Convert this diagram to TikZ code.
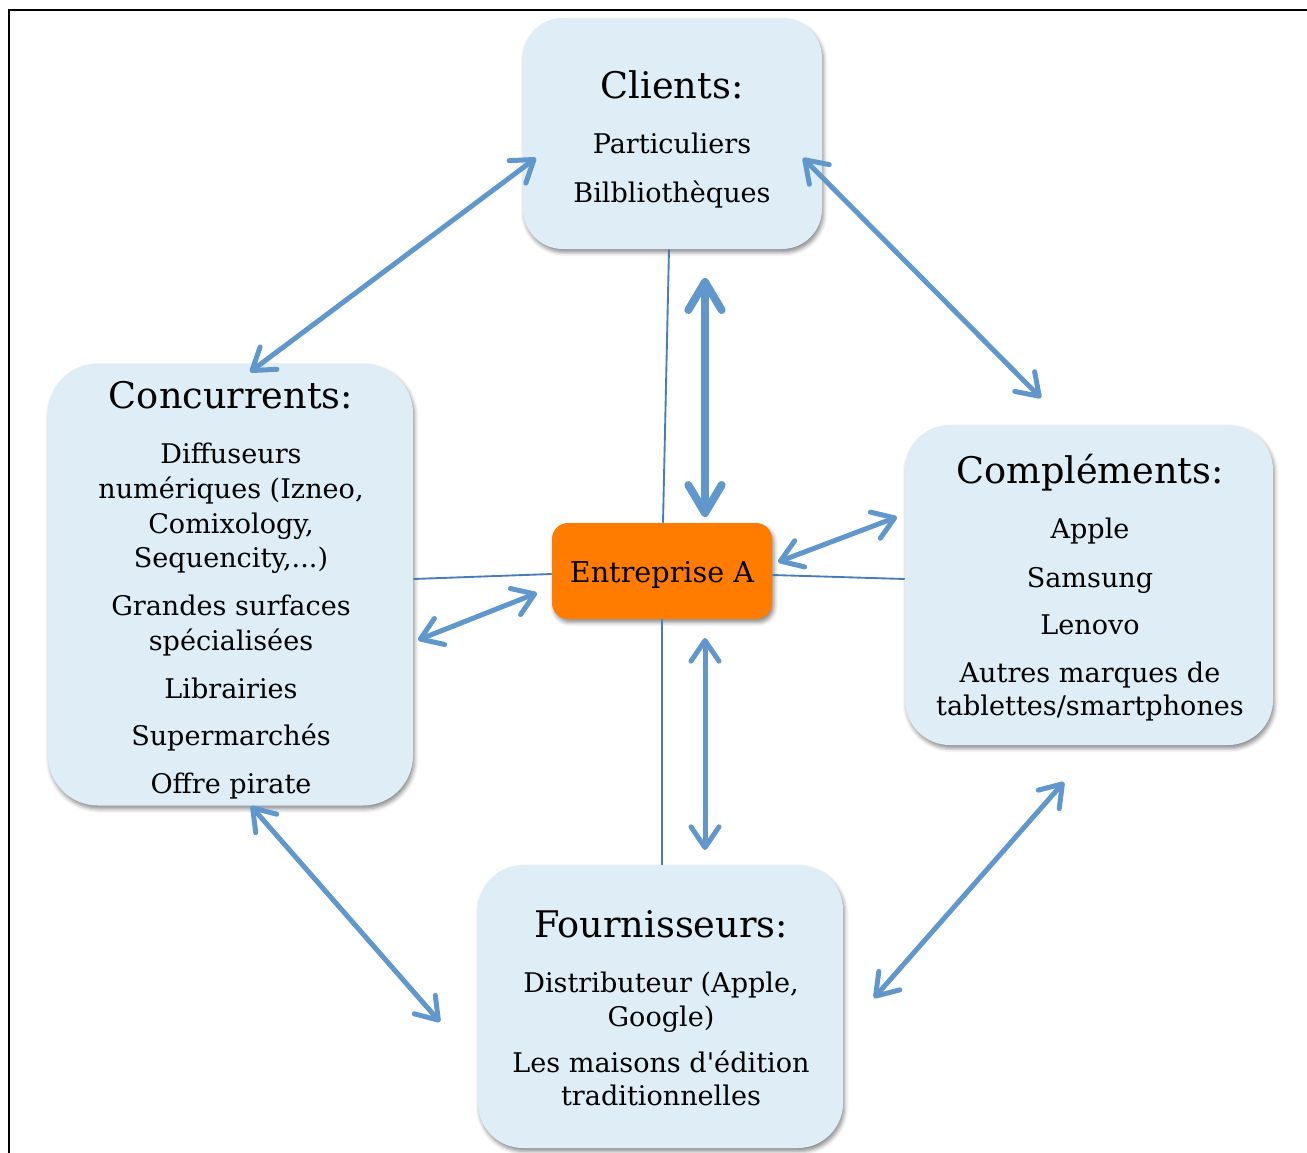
\documentclass[tikz,border=0pt]{standalone}
\usepackage{fontspec}
\setmainfont{DejaVu Serif}
\usetikzlibrary{arrows.meta,shadows.blur,calc}
\definecolor{boxfill}{HTML}{DEEDF6}
\definecolor{hubfill}{HTML}{FF7C00}
\definecolor{thinblue}{HTML}{4A7DB5}
\definecolor{arrowblue}{HTML}{6297CC}
\begin{document}
\begin{tikzpicture}[x=0.75pt,y=-0.75pt,
  panel/.style={rectangle, fill=boxfill, rounded corners=#1, inner sep=0pt,
    blur shadow={shadow xshift=1.2pt, shadow yshift=-2.6pt, shadow blur radius=3pt, shadow opacity=45}},
  hub/.style={rectangle, fill=hubfill, rounded corners=12pt, inner sep=0pt,
    minimum width=165pt, minimum height=72pt,
    font=\fontsize{21.5}{26}\selectfont,
    blur shadow={shadow xshift=1.5pt, shadow yshift=-2.6pt, shadow blur radius=3pt, shadow opacity=45}},
  title/.style={anchor=base, inner sep=0pt, font=\fontsize{27.5}{32}\selectfont},
  body/.style={anchor=base, inner sep=0pt, font=\fontsize{20.3}{24}\selectfont},
  tie/.style={draw=thinblue, line width=1.4pt},
  link/.style={draw=arrowblue, line width=3.75pt,
    arrows={Straight Barb[length=15.5pt,width=21pt,round]-Straight Barb[length=15.5pt,width=21pt,round]}},
  biglink/.style={draw=arrowblue, line width=6pt,
    arrows={Straight Barb[length=21pt,width=25pt,round]-Straight Barb[length=21pt,width=25pt,round]}}
]
% page extent and frame
\useasboundingbox (0,0) rectangle (1307,1153);
\draw[line width=2pt] (9,1153) -- (9,10) -- (1307,10);

% the five boxes
\node[panel=30pt, minimum width=224.25pt, minimum height=173.25pt] (clients) at (672.5,133.5) {};
\node[panel=37.5pt, minimum width=273.75pt, minimum height=331.5pt] (concurrents) at (230.5,584.5) {};
\node[panel=33.75pt, minimum width=276pt, minimum height=240pt] (complements) at (1089,585) {};
\node[panel=33.75pt, minimum width=273.75pt, minimum height=212.25pt] (fournisseurs) at (660.5,1006.5) {};
\node[hub] (entreprise) at (662,571) {\raisebox{-2.6pt}[\height][\depth]{Entreprise A}};

% thin ties from the hub to each box
\draw[tie] ($(clients.south)+(-3.5,0)$) -- ($(entreprise.north)+(1,0)$);
\draw[tie] ($(concurrents.east)+(0,-5.5)$) -- ($(entreprise.west)+(0,3)$);
\draw[tie] ($(entreprise.east)+(0,4)$) -- ($(complements.west)+(0,-6)$);
\draw[tie] (entreprise.south) -- ($(fournisseurs.north)+(1.5,0)$);

% box texts
\node[title] (clT) at (672,98) {Clients:};
\node[body] (cl1) at (672,153) {Particuliers};
\node[body] (cl2) at (672,202) {Bilbliothèques};

\node[title] (coT) at (231,408) {Concurrents:};
\node[body] (co1) at (231,463) {Diffuseurs};
\node[body] (co2) at (231,498) {numériques (Izneo,};
\node[body] (co3) at (231,533) {Comixology,};
\node[body] (co4) at (231,567) {Sequencity,...)};
\node[body] (co5) at (231,615) {Grandes surfaces};
\node[body] (co6) at (231,650) {spécialisées};
\node[body] (co7) at (231,698) {Librairies};
\node[body] (co8) at (231,745) {Supermarchés};
\node[body] (co9) at (231,793) {Offre pirate};

\node[title] (cmT) at (1090,483) {Compléments:};
\node[body] (cm1) at (1090,538) {Apple};
\node[body] (cm2) at (1090,587) {Samsung};
\node[body] (cm3) at (1090,634) {Lenovo};
\node[body] (cm4) at (1090,682) {Autres marques de};
\node[body] (cm5) at (1090,715) {tablettes/smartphones};

\node[title] (foT) at (661,937) {Fournisseurs:};
\node[body] (fo1) at (661,992) {Distributeur (Apple,};
\node[body] (fo2) at (661,1026) {Google)};
\node[body] (fo3) at (661,1072) {Les maisons d\textquotesingle édition};
\node[body] (fo4) at (661,1105) {traditionnelles};

% ends of the double arrows
\coordinate (clSW) at (536,158);
\coordinate (coNE) at (250,372);
\coordinate (clSE) at (803,158);
\coordinate (cmNW) at (1041,398);
\coordinate (clS) at (705,278);
\coordinate (enN) at (705,517);
\coordinate (enW) at (537,593);
\coordinate (coE) at (418,640);
\coordinate (enE) at (897,517);
\coordinate (cmW) at (778,562);
\coordinate (enS) at (705,638);
\coordinate (foN) at (705,850);
\coordinate (coS) at (251,806);
\coordinate (foNW) at (440,1022);
\coordinate (cmS) at (1064,782);
\coordinate (foNE) at (874,998);

% double arrows
\draw[link] (clSW) -- (coNE);
\draw[link] (clSE) -- (cmNW);
\draw[biglink] (clS) -- (enN);
\draw[link] (enW) -- (coE);
\draw[link] (enE) -- (cmW);
\draw[link] (enS) -- (foN);
\draw[link] (coS) -- (foNW);
\draw[link] (cmS) -- (foNE);
\end{tikzpicture}
\end{document}
